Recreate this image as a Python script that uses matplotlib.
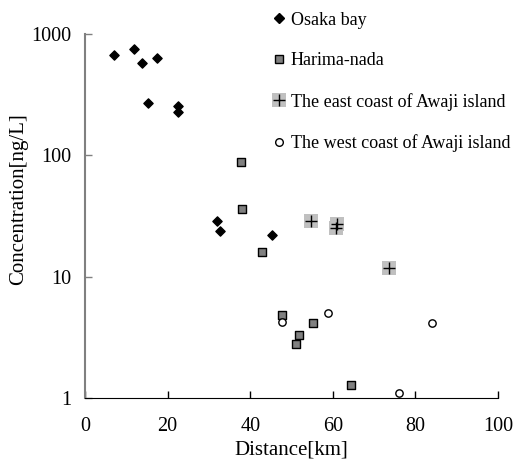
import matplotlib
matplotlib.use("Agg")
import matplotlib.pyplot as plt
from matplotlib.lines import Line2D

plt.rcParams['font.family'] = ['Liberation Serif', 'DejaVu Serif']

# Osaka bay
osaka_x = [7.0, 11.9, 13.7, 17.5, 15.3, 22.6, 22.6, 31.9, 32.6, 45.3]
osaka_y = [670, 756, 576, 637, 271, 257, 227, 28.9, 23.7, 22.1]
# Harima-nada
harima_x = [37.8, 38.1, 42.9, 47.7, 55.1, 51.8, 51.2, 64.3]
harima_y = [88.7, 36.0, 16.1, 4.82, 4.14, 3.32, 2.78, 1.27]
# east coast of Awaji
east_x = [54.6, 61.0, 60.8, 73.5]
east_y = [28.9, 27.3, 25.4, 11.7]
# west coast of Awaji
west_x = [47.7, 58.9, 83.9, 75.9]
west_y = [4.25, 5.04, 4.14, 1.10]

labels = ["Osaka bay", "Harima-nada", "The east coast of Awaji island",
          "The west coast of Awaji island"]

fig = plt.figure(figsize=(5.14, 4.59), dpi=100)
ax = fig.add_axes([0.1654, 0.133, 0.8036, 0.793])

ax.scatter(osaka_x, osaka_y, marker='D', s=22, c='black', zorder=3)
ax.scatter(harima_x, harima_y, marker='s', s=30, c='#808080',
           edgecolors='black', linewidths=1.0, zorder=3)
ax.scatter(east_x, east_y, marker='s', s=110, c='#c0c0c0', linewidths=0, zorder=3)
ax.scatter(east_x, east_y, marker='+', s=70, c='black', linewidths=1.0, zorder=4)
ax.scatter(west_x, west_y, marker='o', s=28, c='white',
           edgecolors='black', linewidths=1.0, zorder=3)

ax.set_yscale('log')
ax.set_xlim(0, 100)
ax.set_ylim(1, 1000)
ax.set_xticks([0, 20, 40, 60, 80, 100])
ax.set_yticks([1, 10, 100, 1000])
ax.set_yticklabels(['1', '10', '100', '1000'])
ax.minorticks_off()
ax.tick_params(axis='both', direction='in', length=5, labelsize=14.5, width=1)
ax.tick_params(axis='x', pad=14)
ax.tick_params(axis='y', pad=10, color='#808080')

for s in ['top', 'right']:
    ax.spines[s].set_visible(False)
ax.spines['left'].set_color('#808080')
ax.spines['left'].set_linewidth(1.5)
ax.spines['bottom'].set_color('black')

ax.set_xlabel('Distance[km]', fontsize=15, labelpad=3)
ax.set_ylabel('Concentration[ng/L]', fontsize=15)
ax.yaxis.set_label_coords(-0.138, 0.547)

h_osaka = Line2D([], [], marker='D', ls='none', color='black', markersize=5)
h_harima = Line2D([], [], marker='s', ls='none', markerfacecolor='#808080',
                  markeredgecolor='black', markersize=6)
h_east_bg = Line2D([], [], marker='s', ls='none', markerfacecolor='#c0c0c0',
                   markeredgewidth=0, markersize=10)
h_east_plus = Line2D([], [], marker='+', ls='none', color='black', markersize=8)
h_west = Line2D([], [], marker='o', ls='none', markerfacecolor='white',
                markeredgecolor='black', markersize=5.5)

fig.legend([h_osaka, h_harima, (h_east_bg, h_east_plus), h_west], labels,
           loc='upper left', bbox_to_anchor=(0.497, 1.002), frameon=False,
           fontsize=13, labelspacing=1.3, handletextpad=0.0, handlelength=1.25,
           borderpad=0.2)

fig.savefig('out.png', dpi=100)
